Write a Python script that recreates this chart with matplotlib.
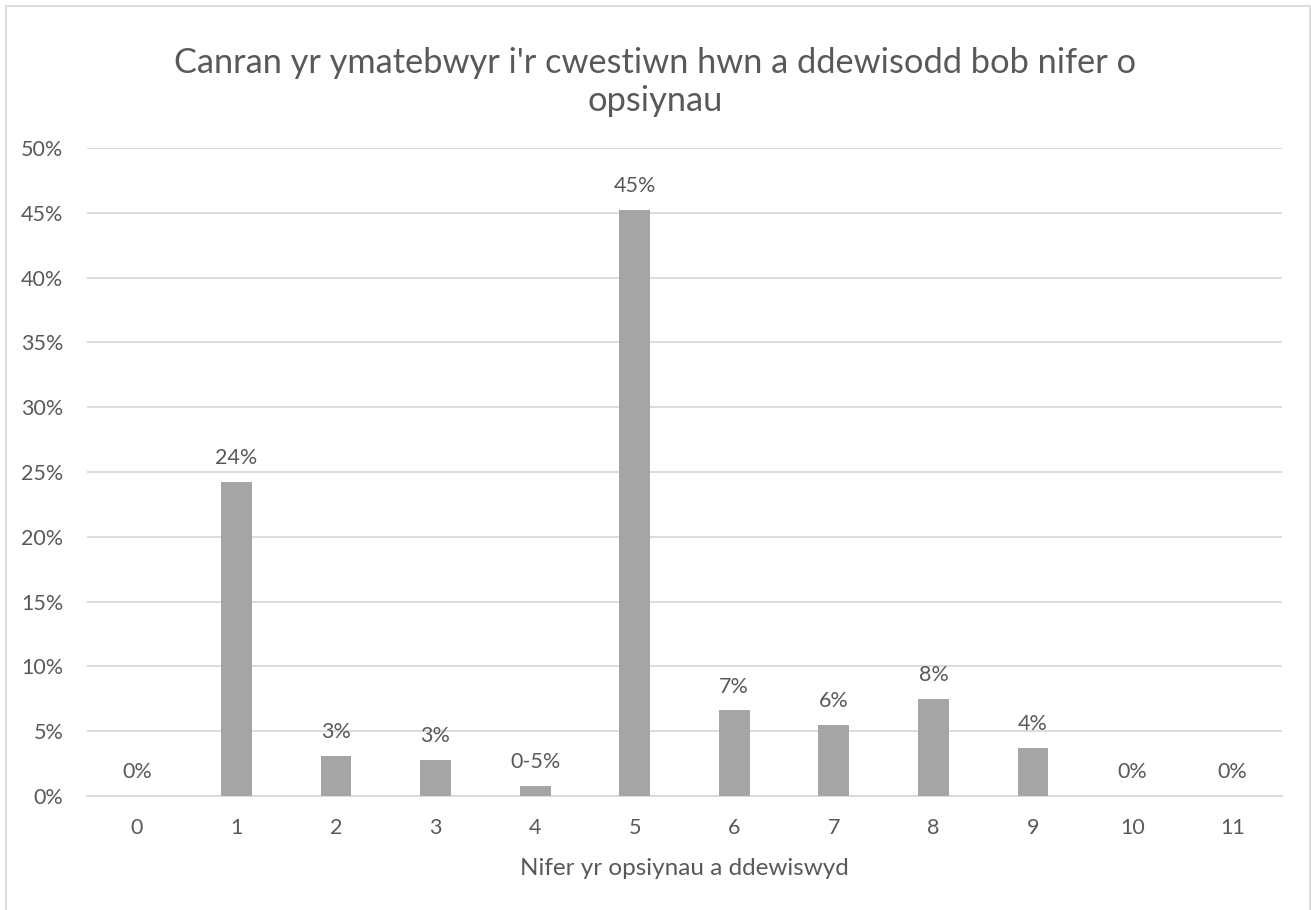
import matplotlib
matplotlib.use("Agg")
import matplotlib.pyplot as plt
from matplotlib.patches import Rectangle
from matplotlib.ticker import FixedLocator, FuncFormatter

categories = ["0", "1", "2", "3", "4", "5", "6", "7", "8", "9", "10", "11"]
values = [0.0, 24.2, 3.1, 2.8, 0.8, 45.2, 6.6, 5.5, 7.5, 3.7, 0.0, 0.0]
value_labels = ["0%", "24%", "3%", "3%", "0-5%", "45%", "7%", "6%", "8%", "4%", "0%", "0%"]
title = "Canran yr ymatebwyr i'r cwestiwn hwn a ddewisodd bob nifer o\nopsiynau"
xlabel = "Nifer yr opsiynau a ddewiswyd"

plt.rcParams['font.family'] = ['Lato', 'DejaVu Sans']
TXT = "#595959"
GRID = "#D9D9D9"
BAR = "#A5A5A5"

fig = plt.figure(figsize=(13.11, 9.10), dpi=100)
fig.patch.set_facecolor("white")
# chart border
fig.patches.append(Rectangle((6/1311, -0.05), (1310-6)/1311, 1 - 6/910 + 0.05,
                             transform=fig.transFigure, fill=False,
                             edgecolor=GRID, linewidth=1.3))

ax = fig.add_axes([87/1311, 1-796/910, (1282-87)/1311, (796-148)/910])
x = list(range(len(categories)))
ax.bar(x, values, width=0.31, color=BAR, zorder=3)
ax.set_xlim(-0.5, len(categories) - 0.5)
ax.set_ylim(0, 50)
ax.yaxis.set_major_locator(FixedLocator([0, 5, 10, 15, 20, 25, 30, 35, 40, 45, 50]))
ax.yaxis.set_major_formatter(FuncFormatter(lambda v, p: f"{int(v)}%"))
ax.set_xticks(x)
ax.set_xticklabels(categories)
ax.grid(axis="y", color=GRID, linewidth=1.3, zorder=0)
for s in ["top", "right", "left"]:
    ax.spines[s].set_visible(False)
ax.spines["bottom"].set_color(GRID)
ax.spines["bottom"].set_linewidth(1.3)
ax.tick_params(axis="both", length=0, colors=TXT, labelsize=15.5)
ax.tick_params(axis="y", pad=17)
ax.tick_params(axis="x", pad=16)

for xi, v, lab in zip(x, values, value_labels):
    ax.annotate(lab, (xi, v), xytext=(0, 10), textcoords="offset points",
                ha="center", va="bottom", color=TXT, fontsize=15.5)

ax.set_xlabel(xlabel, color=TXT, fontsize=17.5, labelpad=14)

fig.text(0.5, 1 - 82/910, title, ha="center", va="center", color=TXT,
         fontsize=24.75, linespacing=1.2)

fig.savefig("out.png", dpi=100, facecolor="white")
